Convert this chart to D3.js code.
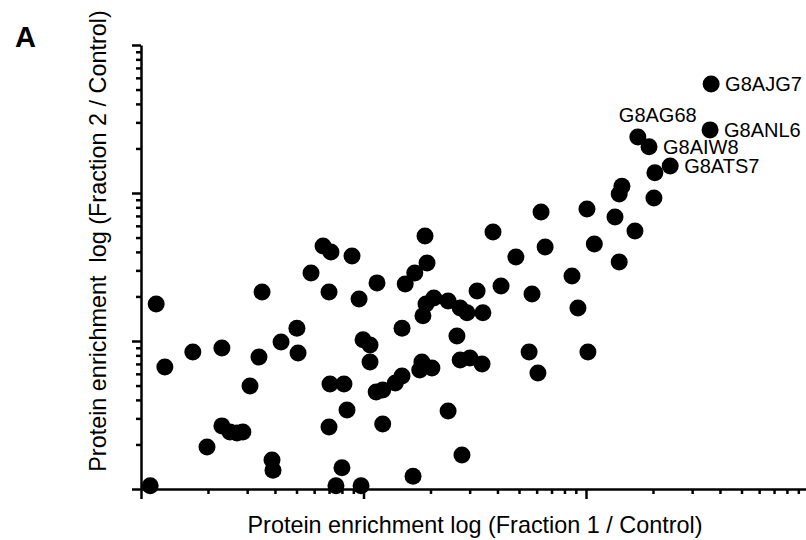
<!DOCTYPE html>
<html>
<head>
<meta charset="utf-8">
<script src="https://cdn.jsdelivr.net/npm/d3@7"></script>
<style>
    body { margin: 0; background: #fff; }
    svg { display: block; font-family: "Liberation Sans", Arial, sans-serif; }
    .axis path, .axis line { stroke: #000; stroke-width: 2.5px; }
</style>
</head>
<body>
<svg width="806" height="540"></svg>
<script>
// protein enrichment, fraction 1 / control
var fraction1 = [
    0.189, 0.0658, 0.0714, 0.0888, 0.0581, 0.193, 0.170, 0.154, 0.115, 0.035,
    0.070, 0.0955, 0.0117, 0.207, 0.240, 0.191, 0.272, 0.292, 0.185, 0.149,
    0.263, 0.0502, 0.0426, 0.0995, 0.107, 0.0171, 0.0231, 0.0339, 0.0508, 0.107,
    0.0128, 0.183, 0.179, 0.203, 0.272, 0.0309, 0.0707, 0.0817, 0.149, 0.139,
    0.122, 0.114, 0.0843, 0.240, 0.070, 0.122, 0.0231, 0.0251, 0.027, 0.0287,
    0.0198, 0.0388, 0.0392, 0.080, 0.167, 0.277, 0.011, 0.0752, 0.0975, 0.301,
    0.341, 0.324, 0.415, 0.344, 0.382, 0.484, 0.572, 0.555, 0.608, 0.628,
    0.655, 0.865, 0.920, 1.01, 1.02, 1.09, 1.35, 1.41, 1.45, 1.41,
    1.66, 2.02, 3.65, 3.61, 1.71, 1.92, 2.39, 2.04
];

// protein enrichment, fraction 2 / control
var fraction2 = [
    0.512, 0.439, 0.399, 0.375, 0.288, 0.337, 0.288, 0.243, 0.247, 0.214,
    0.214, 0.192, 0.178, 0.195, 0.186, 0.178, 0.167, 0.155, 0.148, 0.122,
    0.108, 0.122, 0.0985, 0.102, 0.094, 0.0843, 0.0897, 0.078, 0.083, 0.0721,
    0.0667, 0.0721, 0.0637, 0.0657, 0.0744, 0.0497, 0.0512, 0.0512, 0.0581, 0.052,
    0.0467, 0.0452, 0.0342, 0.0337, 0.0262, 0.0275, 0.0267, 0.0243, 0.0239, 0.0243,
    0.0192, 0.0157, 0.0134, 0.0139, 0.0122, 0.017, 0.0105, 0.0105, 0.0105, 0.0768,
    0.070, 0.218, 0.235, 0.155, 0.545, 0.370, 0.208, 0.0843, 0.0608, 0.745,
    0.432, 0.275, 0.167, 0.780, 0.0843, 0.452, 0.689, 0.342, 1.11, 0.985,
    0.553, 0.925, 5.45, 2.67, 2.39, 2.05, 1.52, 1.37
];

// labelled proteins and the point each one belongs to
var labelNames = ["G8AJG7", "G8ANL6", "G8AG68", "G8AIW8", "G8ATS7"];
var labelPoints = [82, 83, 84, 85, 86];

var xTitle = "Protein enrichment log (Fraction 1 / Control)";
var yTitle = "Protein enrichment  log (Fraction 2 / Control)";

var data = fraction1.map(function(d, i) {
    return { x: d, y: fraction2[i] };
});

var svg = d3.select("svg");

// set the ranges (three decades on each axis)
var x = d3.scaleLog().domain([0.01, 10]).range([141, 808.5]);
var y = d3.scaleLog().domain([0.01, 10]).range([489, 45]);

function isMajor(v) {
    var l = Math.log10(v);
    return Math.abs(l - Math.round(l)) < 1e-9;
}

var xMinor = x.ticks().filter(function(v) { return !isMajor(v); }),
    xMajor = x.ticks().filter(isMajor),
    yMinor = y.ticks().filter(function(v) { return !isMajor(v); }),
    yMajor = y.ticks().filter(isMajor);

// X axis: short minor ticks, longer decade ticks
svg.append("g")
    .attr("class", "axis")
    .attr("transform", "translate(0,489)")
    .call(d3.axisBottom(x).tickValues(xMinor).tickSize(5).tickSizeOuter(0).tickFormat(""));
svg.append("g")
    .attr("class", "axis")
    .attr("transform", "translate(0,489)")
    .call(d3.axisBottom(x).tickValues(xMajor).tickSize(10).tickSizeOuter(0).tickFormat(""))
    .select(".domain").remove();

// Y axis
svg.append("g")
    .attr("class", "axis")
    .attr("transform", "translate(141,0)")
    .call(d3.axisLeft(y).tickValues(yMinor).tickSize(5).tickSizeOuter(0).tickFormat(""));
svg.append("g")
    .attr("class", "axis")
    .attr("transform", "translate(141,0)")
    .call(d3.axisLeft(y).tickValues(yMajor).tickSize(9).tickSizeOuter(0).tickFormat(""))
    .select(".domain").remove();

// the points
svg.append("g")
    .selectAll("circle")
    .data(data)
    .enter().append("circle")
    .attr("cx", function(d) { return x(d.x); })
    .attr("cy", function(d) { return y(d.y); })
    .attr("r", 8.5)
    .style("fill", "#000");

// protein names, G8AG68 sits above its point, the rest to the right
svg.append("g")
    .selectAll("text")
    .data(labelNames)
    .enter().append("text")
    .attr("x", function(d, i) {
        var p = data[labelPoints[i]];
        return x(p.x) + (d === "G8AG68" ? -19 : 14);
    })
    .attr("y", function(d, i) {
        var p = data[labelPoints[i]];
        return y(p.y) + (d === "G8AG68" ? -22 : 0);
    })
    .attr("dy", "0.36em")
    .style("font-size", "20px")
    .text(function(d) { return d; });

// axis titles
svg.append("text")
    .attr("x", 475)
    .attr("y", 533)
    .attr("text-anchor", "middle")
    .style("font-size", "23.4px")
    .style("white-space", "pre")
    .text(xTitle);

svg.append("text")
    .attr("transform", "translate(106,241) rotate(-90)")
    .attr("text-anchor", "middle")
    .style("font-size", "23.4px")
    .style("white-space", "pre")
    .text(yTitle);

// panel letter
svg.append("text")
    .attr("x", 15)
    .attr("y", 47)
    .style("font-size", "29px")
    .style("font-weight", "bold")
    .text("A");
</script>
</body>
</html>
